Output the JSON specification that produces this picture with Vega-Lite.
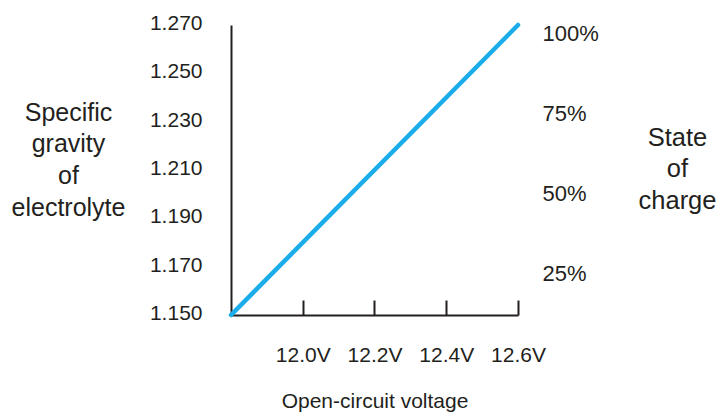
{
  "$schema": "https://vega.github.io/schema/vega-lite/v6.json",
  "width": 287,
  "height": 290,
  "autosize": {"type": "none"},
  "padding": {"left": 231, "top": 25, "right": 201, "bottom": 98},
  "background": "white",
  "config": {
    "view": {"stroke": null},
    "font": "Liberation Sans",
    "axis": {
      "labelFont": "Liberation Sans",
      "titleFont": "Liberation Sans",
      "labelColor": "#231f20",
      "titleColor": "#231f20",
      "titleFontWeight": "normal",
      "domainColor": "#231f20",
      "tickColor": "#231f20",
      "domainWidth": 2,
      "tickWidth": 2,
      "grid": false
    }
  },
  "layer": [
    {
      "data": {"values": [
        {"voltage": 11.8, "gravity": 1.150},
        {"voltage": 12.6, "gravity": 1.270}
      ]},
      "mark": {"type": "line", "color": "#1badea", "strokeWidth": 4.5, "strokeCap": "round"},
      "encoding": {
        "x": {
          "field": "voltage", "type": "quantitative",
          "scale": {"domain": [11.8, 12.6], "nice": false, "zero": false},
          "axis": {
            "values": [12.0, 12.2, 12.4, 12.6],
            "labelExpr": "format(datum.value, '.1f') + 'V'",
            "tickSize": -15,
            "labelPadding": 44,
            "labelFontSize": 21,
            "labelFlush": false,
            "title": "Open-circuit voltage",
            "titleFontSize": 21,
            "titleX": 143.5,
            "titleY": 86,
            "titleAlign": "center",
            "titleBaseline": "middle"
          }
        },
        "y": {
          "field": "gravity", "type": "quantitative",
          "scale": {"domain": [1.150, 1.270], "nice": false, "zero": false},
          "axis": {
            "values": [1.150, 1.170, 1.190, 1.210, 1.230, 1.250, 1.270],
            "format": ".3f",
            "ticks": false,
            "labelPadding": 29,
            "labelFontSize": 21,
            "labelFlush": false,
            "labelOffset": -1.5,
            "title": ["Specific", "gravity", "of", "electrolyte"],
            "titleAngle": 0,
            "titleAlign": "center",
            "titleBaseline": "alphabetic",
            "titleFontSize": 25,
            "titleLineHeight": 31.7,
            "titleX": -163,
            "titleY": 95
          }
        }
      }
    },
    {
      "data": {"values": [
        {"charge": 25}, {"charge": 50}, {"charge": 75}, {"charge": 100}
      ]},
      "mark": {"type": "point", "opacity": 0},
      "encoding": {
        "y": {
          "field": "charge", "type": "quantitative",
          "scale": {"domain": [11.875, 102.5], "nice": false, "zero": false},
          "axis": {
            "orient": "right",
            "values": [25, 50, 75, 100],
            "labelExpr": "datum.value + '%'",
            "domain": false,
            "ticks": false,
            "labelPadding": 24,
            "labelFontSize": 22,
            "labelFlush": false,
            "labelAlign": "left",
            "title": ["State", "of", "charge"],
            "titleAngle": 0,
            "titleAlign": "center",
            "titleBaseline": "alphabetic",
            "titleFontSize": 25.5,
            "titleLineHeight": 31.5,
            "titleX": 159,
            "titleY": 120
          }
        }
      }
    }
  ],
  "resolve": {"scale": {"y": "independent"}}
}
